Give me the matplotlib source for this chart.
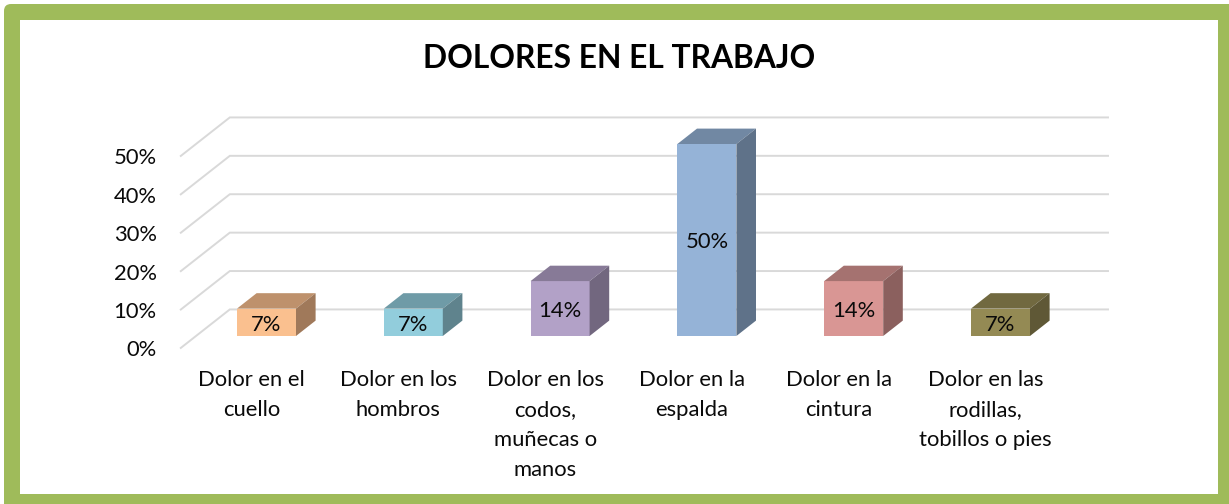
import matplotlib
matplotlib.use('Agg')
import matplotlib.pyplot as plt
from matplotlib.patches import Rectangle, FancyBboxPatch, Polygon
from matplotlib.transforms import IdentityTransform

plt.rcParams['font.family'] = ['Lato', 'DejaVu Sans']

title = 'DOLORES EN EL TRABAJO'
categories = ['Dolor en el\ncuello', 'Dolor en los\nhombros', 'Dolor en los\ncodos,\nmuñecas o\nmanos',
              'Dolor en la\nespalda', 'Dolor en la\ncintura', 'Dolor en las\nrodillas,\ntobillos o pies']
values = [0.0714, 0.0714, 0.143, 0.50, 0.143, 0.0714]
yticks = [0, 0.1, 0.2, 0.3, 0.4, 0.5]
front_colors = ['#FAC08F', '#92CDDC', '#B2A1C7', '#95B3D7', '#D99694', '#948A54']
top_colors = ['#BE916C', '#6F9BA7', '#877A97', '#7188A3', '#A57270', '#716940']
side_colors = ['#A0795A', '#5F838D', '#72677F', '#5F7289', '#8B605E', '#5F5836']

W, H = 1229, 504
fig = plt.figure(figsize=(W / 100, H / 100), dpi=100)

# green frame, pixel coords with origin at bottom left
fig.patches.append(FancyBboxPatch((4, -20), W + 20, H + 20 - 4, boxstyle='round,pad=0,rounding_size=7',
                                  transform=IdentityTransform(), fc='#9FBB5A', ec='none', zorder=-2))
fig.patches.append(Rectangle((20, H - 494), 1218 - 20, 494 - 20, transform=IdentityTransform(),
                             fc='white', ec='none', zorder=-1))

# axes over whole figure: bar front plane is the data plane
step = 146.8
x0 = 266.5
y0 = 336.0
yscale = 384.0
ax = fig.add_axes([0, 0, 1, 1], facecolor='none')
ax.set_xlim(-x0 / step, (W - x0) / step)
ax.set_ylim((y0 - H) / yscale, y0 / yscale)
ax.axis('off')

# depth unit in data terms (one full unit = side wall depth)
dx = 49.0 / step
dy = 38.5 / yscale
wall_front = -0.31
wall_back = 0.69
bar_depth = 0.4
left = (196 - x0) / step
right = (1108 - 49 * wall_back - x0) / step
text_drop = 2.5 / yscale

for v in yticks:
    ax.plot([left + wall_front * dx, left + wall_back * dx, right + wall_back * dx],
            [v + wall_front * dy, v + wall_back * dy, v + wall_back * dy],
            color='#D9D9D9', lw=1.4, zorder=1, solid_joinstyle='miter')
    ax.text(left + wall_front * dx - 24 / step, v + wall_front * dy - text_drop, '%d%%' % round(v * 100),
            ha='right', va='center', fontsize=15.8, color='#0A0A0A')

w = 59.0 / step
for i, v in enumerate(values):
    ax.bar(i, v, width=w, color=front_colors[i], zorder=3)
    l = i - w / 2
    r = i + w / 2
    ox = bar_depth * dx
    oy = bar_depth * dy
    ax.add_patch(Polygon([(l, v), (r, v), (r + ox, v + oy), (l + ox, v + oy)], fc=top_colors[i], ec='none', zorder=3))
    ax.add_patch(Polygon([(r, 0), (r + ox, oy), (r + ox, v + oy), (r, v)], fc=side_colors[i], ec='none', zorder=3))
    ax.text(i, v / 2 - text_drop, '%d%%' % round(v * 100), ha='center', va='center', fontsize=15.8, color='#0A0A0A', zorder=4)
    ax.text(i - 15 / step, (y0 - 370) / yscale, categories[i], ha='center', va='top', fontsize=15.8,
            color='#0A0A0A', linespacing=1.63)

ax.text((619 - x0) / step, (y0 - 59) / yscale, title, ha='center', va='center', fontsize=22.9, fontweight='bold', color='black')

fig.savefig('out.png', dpi=100)
